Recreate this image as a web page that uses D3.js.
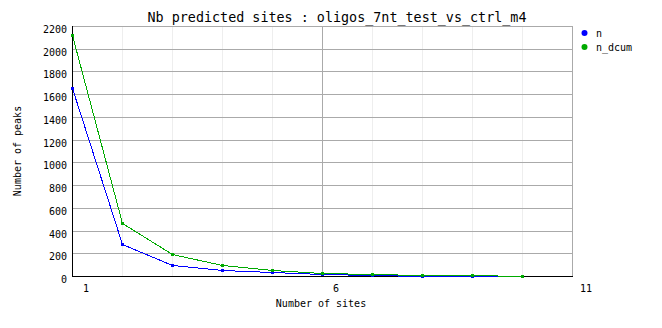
<!DOCTYPE html>
<html><head><meta charset="utf-8">
<script src="https://cdn.jsdelivr.net/npm/d3@7"></script>
<style>
body{margin:0;background:#fff;}
svg text{font-family:"DejaVu Sans Mono","Liberation Mono",monospace;fill:#000;}
</style></head>
<body><svg id="c" width="662" height="328"></svg>
<script>
const title = "Nb predicted sites : oligos_7nt_test_vs_ctrl_m4";
const xLabel = "Number of sites";
const yLabel = "Number of peaks";
const sites = [1,2,3,4,5,6,7,8,9,10];
const nValues = [1652,280,96,52,35,18,11,2,2,3];
const nDcumValues = [2122,464,193,100,53,27,18,7,5,3];
const seriesNames = ["n","n_dcum"];
const seriesColors = ["#0000ff","#00aa00"];
const yTicks = [0,200,400,600,800,1000,1200,1400,1600,1800,2000,2200];
const xMajorTicks = [1,6,11];
const xMinorTicks = [2,3,4,5,7,8,9,10];

const svg = d3.select("#c");
const L=72,R=572,T=26,B=276;
const x = d3.scaleLinear().domain([1,11]).range([L,R]);
const y = d3.scaleLinear().domain([0,2200]).range([B,T]);
const g = svg.append("g").attr("shape-rendering","crispEdges");

// minor vertical grid
g.selectAll(".vmin").data(xMinorTicks).join("line")
 .attr("x1",d=>x(d)+0.5).attr("x2",d=>x(d)+0.5).attr("y1",T).attr("y2",B)
 .attr("stroke","#eeeeee");
// horizontal grid
g.selectAll(".hg").data(yTicks.filter(d=>d>0)).join("line")
 .attr("x1",L).attr("x2",R).attr("y1",d=>Math.round(y(d))+0.5).attr("y2",d=>Math.round(y(d))+0.5)
 .attr("stroke","#aaaaaa");
// major vertical grid
g.selectAll(".vmaj").data(xMajorTicks.filter(d=>d>1)).join("line")
 .attr("x1",d=>x(d)+0.5).attr("x2",d=>x(d)+0.5).attr("y1",T).attr("y2",B)
 .attr("stroke","#aaaaaa");
// axes
g.append("line").attr("x1",L+0.5).attr("x2",L+0.5).attr("y1",T).attr("y2",B+1).attr("stroke","#000");
g.append("line").attr("x1",L).attr("x2",R+1).attr("y1",B+0.5).attr("y2",B+0.5).attr("stroke","#000");

// y tick labels
svg.selectAll(".yl").data(yTicks).join("text")
 .attr("x",67).attr("y",d=>Math.round(y(d))+7)
 .attr("text-anchor","end").attr("font-size","10px").text(d=>d);
// x tick labels
svg.selectAll(".xl").data(xMajorTicks).join("text")
 .attr("x",d=>x(d)+14).attr("y",292)
 .attr("text-anchor","middle").attr("font-size","10px").text(d=>d);

// titles
svg.append("text").attr("x",337).attr("y",22).attr("text-anchor","middle")
 .attr("font-size","13.4px").text(title);
svg.append("text").attr("x",321).attr("y",307).attr("text-anchor","middle")
 .attr("font-size","10px").text(xLabel);
svg.append("text").attr("transform","translate(21,151) rotate(-90)").attr("text-anchor","middle")
 .attr("font-size","10px").text(yLabel);

// series
const series = [nValues,nDcumValues];
const line = d3.line().x((d,i)=>x(sites[i])+0.5).y(d=>Math.round(y(d))+0.5);
series.forEach((vals,k)=>{
  g.append("path").datum(vals).attr("d",line).attr("fill","none")
   .attr("stroke",seriesColors[k]).attr("stroke-width",1);
  g.selectAll(".m"+k).data(vals).join("rect")
   .attr("x",(d,i)=>x(sites[i])-1).attr("y",d=>Math.round(y(d))-1)
   .attr("width",3).attr("height",3).attr("fill",seriesColors[k]);
});

// legend
seriesNames.forEach((name,k)=>{
  const cy = 33+k*14;
  svg.append("circle").attr("cx",584.5).attr("cy",cy).attr("r",3).attr("fill",seriesColors[k]);
  svg.append("text").attr("x",596).attr("y",cy+4).attr("font-size","10px").text(name);
});
</script></body></html>
